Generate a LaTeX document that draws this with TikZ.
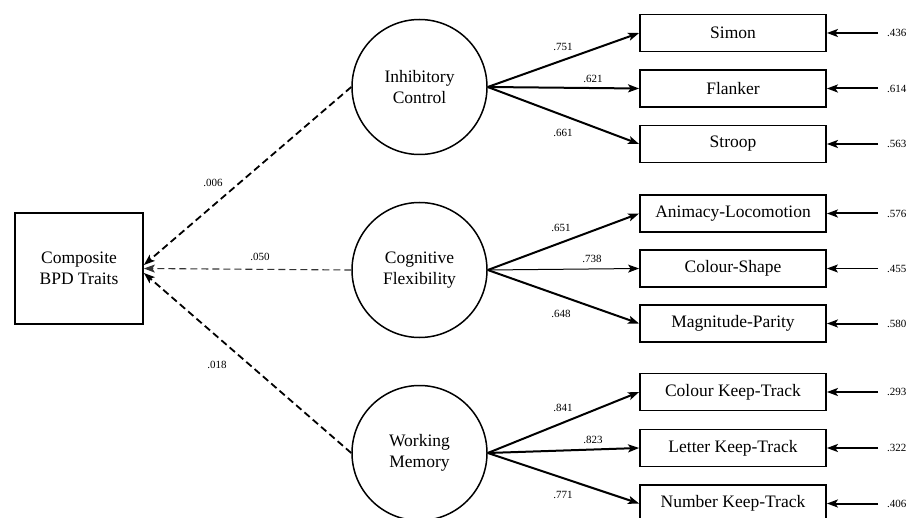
\documentclass[tikz,border=0pt]{standalone}
\usepackage{fontspec}
\setmainfont{Liberation Serif}
\usetikzlibrary{arrows.meta}
\begin{document}
\begin{tikzpicture}[x=1pt,y=-1pt,
  txt/.style={font=\fontsize{17.5}{21}\selectfont},
  box/.style={txt,draw,line width=1.8pt,minimum width=186pt,minimum height=37pt,inner sep=0pt},
  lat/.style={txt,draw,circle,line width=1.5pt,minimum size=135pt,inner sep=0pt,align=center},
  compbox/.style={txt,draw,line width=1.8pt,minimum width=128pt,minimum height=111pt,inner sep=0pt,align=center},
  tip/.style={-{Stealth[length=11pt,width=8pt,inset=2.5pt]}},
  load/.style={tip,line width=2pt},
  thinload/.style={tip,line width=1pt},
  cov/.style={tip,line width=1.8pt,dash pattern=on 7pt off 4pt},
  thincov/.style={tip,line width=1.1pt,dash pattern=on 7pt off 4pt,draw=black!80},
  val/.style={font=\fontsize{11}{13}\selectfont,inner sep=0pt},
  errval/.style={val,anchor=west},
]
\clip (0,0) rectangle (912,518);
\fill[white] (0,0) rectangle (912,518);

% composite
\node[compbox] (comp) at (79,268.5) {Composite\\BPD Traits};

% latent factors
\node[lat] (ic) at (419.5,87) {Inhibitory\\Control};
\node[lat] (cf) at (419.5,270) {Cognitive\\Flexibility};
\node[lat] (wm) at (419.5,453) {Working\\Memory};

% indicators
\node[box] (simon) at (733,33) {Simon};
\node[box] (flanker) at (733,88.5) {Flanker};
\node[box] (stroop) at (733,144) {Stroop};
\node[box] (anim) at (733,213.5) {Animacy-Locomotion};
\node[box] (colsh) at (733,268.5) {Colour-Shape};
\node[box] (magn) at (733,323.5) {Magnitude-Parity};
\node[box] (ckt) at (733,392) {Colour Keep-Track};
\node[box] (lkt) at (733,448) {Letter Keep-Track};
\node[box] (nkt) at (733,503.5) {Number Keep-Track};

% loadings
\draw[load] (ic.east) -- (simon.west);
\draw[load] (ic.east) -- (flanker.west);
\draw[load] (ic.east) -- (stroop.west);
\draw[load] (cf.east) -- (anim.west);
\draw[thinload] (cf.east) -- (colsh.west);
\draw[load] (cf.east) -- (magn.west);
\draw[load] (wm.east) -- (ckt.west);
\draw[load] (wm.east) -- (lkt.west);
\draw[load] (wm.east) -- (nkt.west);

\node[val] (l1) at (563,47) {.751};
\node[val] (l2) at (593,79) {.621};
\node[val] (l3) at (563,133) {.661};
\node[val] (l4) at (561,228) {.651};
\node[val] (l5) at (592,259) {.738};
\node[val] (l6) at (561,314) {.648};
\node[val] (l7) at (563,408) {.841};
\node[val] (l8) at (593,440) {.823};
\node[val] (l9) at (563,495) {.771};

% error terms
\foreach \n/\y/\v/\w in {simon/33/.436/load,flanker/88.5/.614/load,stroop/144/.563/load,anim/213.5/.576/load,colsh/268.5/.455/thinload,magn/323.5/.580/load,ckt/392/.293/load,lkt/448/.322/load,nkt/503.5/.406/load}{
  \coordinate (e\n) at (878,\y);
  \draw[\w] (e\n) -- (\n.east);
  \node[errval] (v\n) at (887,\y) {\v};
}

% structural paths
\draw[cov] (ic.west) -- ([yshift=3.5pt]comp.east);
\draw[thincov] (cf.west) -- (comp.east);
\draw[cov] (wm.west) -- ([yshift=-4.5pt]comp.east);

\node[val] (s1) at (213,183) {.006};
\node[val] (s2) at (260,257) {.050};
\node[val] (s3) at (217,365) {.018};
\end{tikzpicture}
\end{document}
